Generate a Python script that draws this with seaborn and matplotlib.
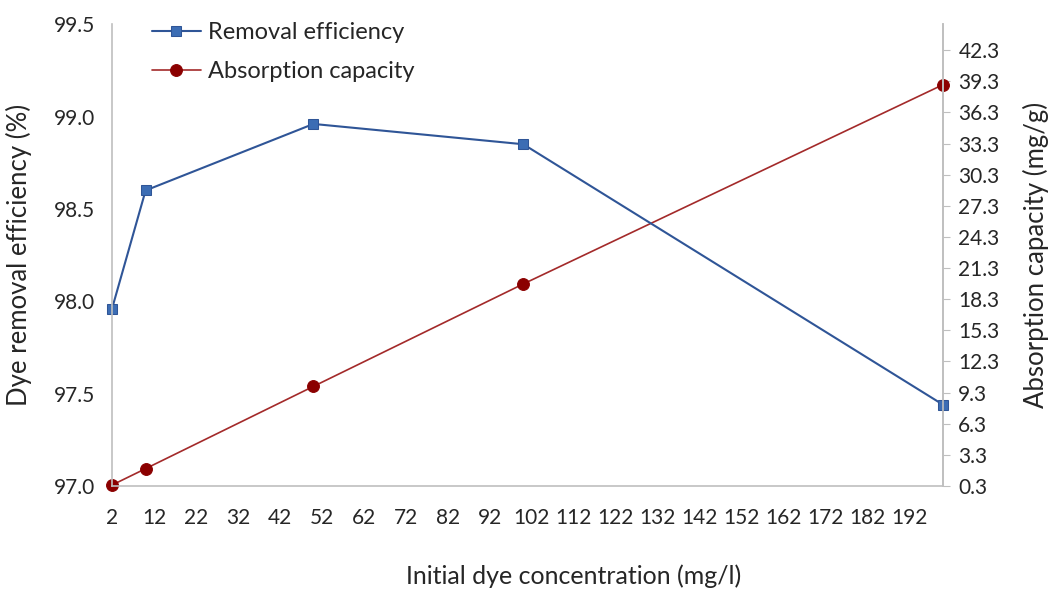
import numpy as np
import pandas as pd
import matplotlib.pyplot as plt
import seaborn as sns

conc = [2, 10, 50, 100, 200]
removal = [97.96, 98.60, 98.96, 98.85, 97.44]
capacity = [0.39, 1.97, 9.9, 19.77, 38.97]
x_ticks = list(range(2, 200, 10))
left_ticks = [97.0, 97.5, 98.0, 98.5, 99.0, 99.5]
right_ticks = [0.3 + 3 * i for i in range(15)]

df = pd.DataFrame({'conc': conc, 'removal': removal, 'capacity': capacity})

sns.set_style('white')
plt.rcParams['font.family'] = ['Lato', 'DejaVu Sans']

fig = plt.figure(figsize=(10.54, 5.9), dpi=100)
ax = fig.add_axes([0.1063, 0.1763, 0.7884, 0.7827])
ax2 = ax.twinx()

blue = '#2F5597'
red = '#A32A2A'
sns.lineplot(data=df, x='conc', y='removal', ax=ax, color=blue, marker='s', markersize=7,
             markerfacecolor='#3C6DB4', markeredgecolor=blue, linewidth=1.5,
             label='Removal efficiency', legend=False, clip_on=False)
sns.lineplot(data=df, x='conc', y='capacity', ax=ax2, color=red, marker='o', markersize=8.5,
             markerfacecolor='#8B0000', markeredgecolor='#8B0000', linewidth=1.2,
             label='Absorption capacity', legend=False, clip_on=False)

ax.set_xlim(2, 200)
ax.set_ylim(97.0, 99.5)
ax2.set_ylim(0.3, 44.8)
ax.set_xticks(x_ticks)
ax.set_xticklabels([str(t) for t in x_ticks])
ax.set_yticks(left_ticks)
ax.set_yticklabels([f'{t:.1f}' for t in left_ticks])
ax2.set_yticks(right_ticks)
ax2.set_yticklabels([f'{t:.1f}' for t in right_ticks])

for a in (ax, ax2):
    for s in a.spines.values():
        s.set_color('#BFBFBF')
        s.set_linewidth(1.2)
    a.spines['top'].set_visible(False)
ax.tick_params(axis='x', length=0, pad=16, labelsize=15)
ax.tick_params(axis='y', length=0, pad=12, labelsize=15)
ax2.tick_params(axis='y', length=5, color='#BFBFBF', pad=6, labelsize=15)
ax2.spines['left'].set_visible(False)
ax2.spines['bottom'].set_visible(False)

ax.set_xlabel('Initial dye concentration (mg/l)', fontsize=18, labelpad=26)
ax.xaxis.label.set_x(0.556)
ax.set_ylabel('Dye removal efficiency (%)', fontsize=18.5, labelpad=16)
ax2.set_ylabel('Absorption capacity (mg/g)', fontsize=18.5, labelpad=17)
ax.set_zorder(ax2.get_zorder() + 1)
ax.patch.set_visible(False)

h1, l1 = ax.get_legend_handles_labels()
h2, l2 = ax2.get_legend_handles_labels()
ax.legend(h1 + h2, l1 + l2, loc='upper left', bbox_to_anchor=(0.022, 1.05), frameon=False,
          fontsize=17, handlelength=2.1, handletextpad=0.3, labelspacing=0.75)

fig.savefig('out.png', dpi=100)
